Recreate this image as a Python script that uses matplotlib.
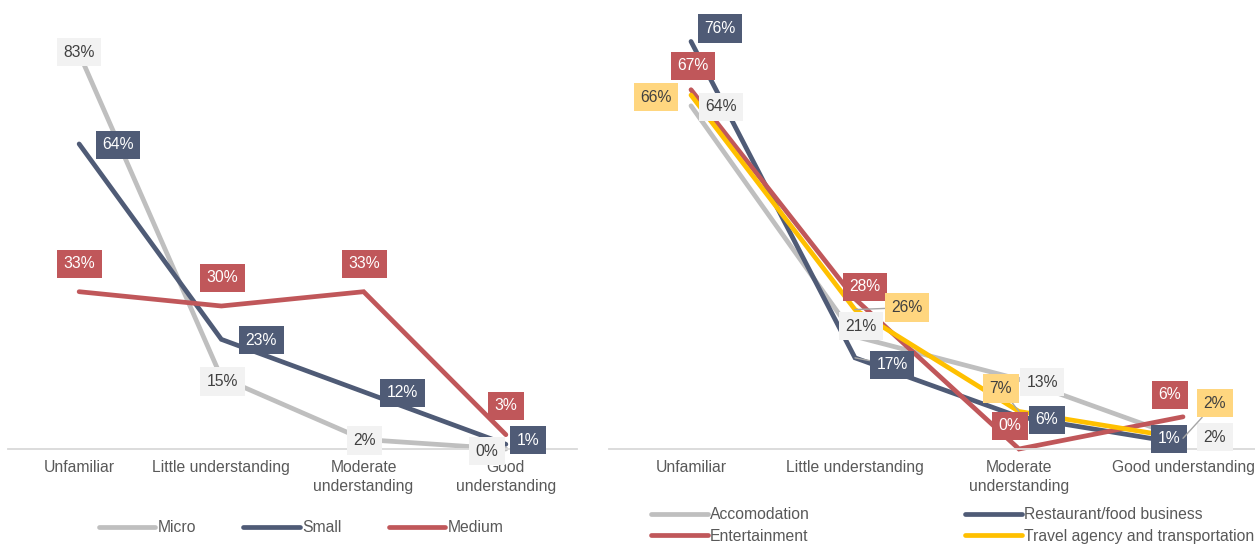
import matplotlib
matplotlib.use("Agg")
import matplotlib.pyplot as plt

plt.rcParams['font.family'] = ['Liberation Sans', 'DejaVu Sans']

# ---- data -------------------------------------------------------------
left_categories = ["Unfamiliar", "Little understanding",
                   "Moderate\nunderstanding", "Good\nunderstanding"]
right_categories = ["Unfamiliar", "Little understanding",
                    "Moderate\nunderstanding", "Good understanding"]

size_names = ["Micro", "Small", "Medium"]
micro = [83, 15, 2, 0]
small = [64, 23, 12, 1]
medium = [33, 30, 33, 3]

sector_names = ["Accomodation", "Restaurant/food business",
                "Entertainment", "Travel agency and transportation"]
accomodation = [64, 21, 13, 2]
restaurant = [76, 17, 6, 1]
entertainment = [67, 28, 0, 6]
travel = [66, 26, 7, 2]

# ---- styling ----------------------------------------------------------
GRAY, NAVY, RED, GOLD = "#bfbfbf", "#4f5b76", "#c0575a", "#ffc000"
BOX = {GRAY: "#f2f2f2", NAVY: "#4f5b76", RED: "#c0575a", GOLD: "#ffd67f"}
TXT = {GRAY: "#404040", NAVY: "white", RED: "white", GOLD: "#404040"}
AXIS_TXT = "#595959"
LW = 3.4
FS = 11.3

W, H = 1255, 548
fig = plt.figure(figsize=(W / 100, H / 100), dpi=100)


def px_axes(x0, x1, y_top, y_bot):
    return fig.add_axes([x0 / W, 1 - y_bot / H, (x1 - x0) / W, (y_bot - y_top) / H])


def style_axes(ax, cats, ymax):
    ax.set_xlim(-0.5, len(cats) - 0.5)
    ax.set_ylim(0, ymax)
    for s in ("top", "right", "left"):
        ax.spines[s].set_visible(False)
    ax.spines["bottom"].set_color("#d9d9d9")
    ax.spines["bottom"].set_linewidth(1.3)
    ax.set_yticks([])
    ax.set_xticks(range(len(cats)))
    ax.set_xticklabels(cats, color=AXIS_TXT, fontsize=FS, linespacing=1.3)
    ax.tick_params(axis="x", length=0, pad=8)
    ax.patch.set_alpha(0)


def label(ax, x, v, color, dx, dy, leader=False):
    kw = {}
    if leader:
        kw["arrowprops"] = dict(arrowstyle="-", color="#a6a6a6", lw=1,
                                shrinkA=0, shrinkB=0)
    ax.annotate(f"{v}%", xy=(x, v), xytext=(dx, -dy), textcoords="offset pixels",
                ha="center", va="center", fontsize=FS, color=TXT[color],
                bbox=dict(boxstyle="square,pad=0.42", fc=BOX[color], ec="none"),
                zorder=10, annotation_clip=False, **kw)


# ---- left panel: by enterprise size ------------------------------------
axL = px_axes(8, 577, 20, 449)
style_axes(axL, left_categories, 90)
xs = range(len(left_categories))
hL = []
for vals, col, name in [(micro, GRAY, size_names[0]),
                        (small, NAVY, size_names[1]),
                        (medium, RED, size_names[2])]:
    ln, = axL.plot(xs, vals, color=col, lw=LW, solid_capstyle="round",
                   solid_joinstyle="miter", label=name, clip_on=False)
    hL.append(ln)

for i, (dx, dy) in enumerate([(0, -1), (1, 4), (1, 1), (-19, 2)]):
    label(axL, i, micro[i], GRAY, dx, dy)
for i, (dx, dy) in enumerate([(39, 1), (40, 1), (39, 1), (22, -4)]):
    label(axL, i, small[i], NAVY, dx, dy)
for i, (dx, dy) in enumerate([(0, -28), (1, -28), (1, -28), (0, -29)]):
    label(axL, i, medium[i], RED, dx, dy)

fig.legend(handles=hL, loc="center", bbox_to_anchor=(301 / W, 1 - 528 / H),
           ncol=3, frameon=False, fontsize=FS, handlelength=3.6,
           handletextpad=0.15, columnspacing=3.0, labelcolor=AXIS_TXT)

# ---- right panel: by business sector ----------------------------------
axR = px_axes(609, 1265, 20, 449)
style_axes(axR, right_categories, 80)
xs = range(len(right_categories))
hR = []
for vals, col, name in [(accomodation, GRAY, sector_names[0]),
                        (restaurant, NAVY, sector_names[1]),
                        (entertainment, RED, sector_names[2]),
                        (travel, GOLD, sector_names[3])]:
    ln, = axR.plot(xs, vals, color=col, lw=LW, solid_capstyle="round",
                   solid_joinstyle="miter", label=name, clip_on=False)
    hR.append(ln)

for i, (dx, dy) in enumerate([(30, 1), (6, -10), (23, 3), (32, -1)]):
    label(axR, i, accomodation[i], GRAY, dx, dy)
for i, (dx, dy, ld) in enumerate([(29, -13, False), (37, 7, True),
                                  (28, 3, False), (-14, -5, False)]):
    label(axR, i, restaurant[i], NAVY, dx, dy, ld)
for i, (dx, dy, ld) in enumerate([(2, -24, False), (10, -12, False),
                                  (-9, -23, False), (-13, -22, False)]):
    label(axR, i, entertainment[i], RED, dx, dy, ld)
for i, (dx, dy, ld) in enumerate([(-35, 2, False), (52, -2, True),
                                  (-18, -23, True), (32, -35, True)]):
    label(axR, i, travel[i], GOLD, dx, dy, ld)

# two columns: Accomodation / Entertainment, then Restaurant / Travel
fig.legend(handles=[hR[0], hR[2], hR[1], hR[3]], loc="upper left",
           bbox_to_anchor=(637 / W, 1 - 493 / H), ncol=2, frameon=False,
           fontsize=FS, handlelength=3.6, handletextpad=0.15,
           columnspacing=9.9, labelspacing=0.42, labelcolor=AXIS_TXT)

fig.savefig("out.png", dpi=100)
